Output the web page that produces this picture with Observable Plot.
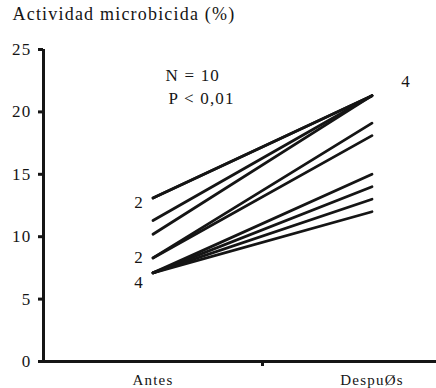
<!DOCTYPE html>
<html>
<head>
<meta charset="utf-8">
<script src="https://cdn.jsdelivr.net/npm/d3@7"></script>
<script src="https://cdn.jsdelivr.net/npm/@observablehq/plot@0.6"></script>
<style>
  html, body { margin: 0; padding: 0; background: #fff; }
  #chart svg text { letter-spacing: 1.2px; }
</style>
</head>
<body>
<div id="chart"></div>
<script>
// Categories and their positions on the (two-band) x axis
const categories = ["Antes", "DespuØs"];
const categoryPos = [0.5, 1.5];
const bandTicks = [1];

// Microbicidal activity (%) per subject, before and after
const antes   = [13.1, 13.1, 11.3, 10.2, 8.3, 8.3, 7.1, 7.1, 7.1, 7.1];
const despues = [21.3, 21.3, 21.3, 21.3, 19.1, 18.1, 15.0, 14.0, 13.0, 12.0];

// Overlap counts shown beside the lines
const countText = ["2", "2", "4"];
const countY    = [12.7, 8.3, 6.3];
const endCountText = ["4"];
const endCountY    = [22.4];

const yTicks = [0, 5, 10, 15, 20, 25];
const title = "Actividad microbicida (%)";
const stats = ["N = 10", "P < 0,01"];

const pairs = antes.map((a, i) => ({a, d: despues[i]}));
const cats = categories.map((c, i) => ({c, x: categoryPos[i]}));

const ink = "#151515";
const font = "Liberation Serif";

const chart = Plot.plot({
  width: 436,
  height: 388,
  marginLeft: 43,
  marginRight: 0,
  marginTop: 49,
  marginBottom: 27,
  x: {type: "linear", domain: [0, 1.7945], axis: null},
  y: {type: "linear", domain: [0, 25], axis: null},
  marks: [
    // axes
    Plot.axisY({ticks: yTicks, tickSize: 5, tickPadding: 7, strokeWidth: 3, stroke: ink, fill: ink, fontSize: 17, fontFamily: font, label: null}),
    Plot.axisX({ticks: bandTicks, tickSize: 5, tickFormat: () => "", strokeWidth: 3, stroke: ink, label: null}),
    Plot.ruleX([0], {y1: 0, y2: 25, stroke: ink, strokeWidth: 3}),
    Plot.ruleY([0], {stroke: ink, strokeWidth: 3}),
    Plot.text(cats, {x: "x", text: "c", frameAnchor: "bottom", dy: 23, fontSize: 15, fontFamily: font, fill: ink, lineAnchor: "bottom"}),
    // lines
    Plot.link(pairs, {x1: () => categoryPos[0], x2: () => categoryPos[1], y1: "a", y2: "d", stroke: ink, strokeWidth: 2.8, strokeLinecap: "round"}),
    // counts
    Plot.text(countText, {x: () => categoryPos[0], y: (d, i) => countY[i], text: d => d, dx: -14, fontSize: 17, fontFamily: font, fill: ink}),
    Plot.text(endCountText, {x: () => categoryPos[1], y: (d, i) => endCountY[i], text: d => d, dx: 34, fontSize: 17, fontFamily: font, fill: ink}),
    // title and stats
    Plot.text([title], {frameAnchor: "top-left", dx: -31, dy: -42, fontSize: 18, fontFamily: font, fill: ink, textAnchor: "start", lineAnchor: "top"}),
    Plot.text([stats[0]], {frameAnchor: "top-left", dx: 122, dy: 19, fontSize: 17, fontFamily: font, fill: ink, textAnchor: "start", lineAnchor: "top"}),
    Plot.text([stats[1]], {frameAnchor: "top-left", dx: 125, dy: 42, fontSize: 17, fontFamily: font, fill: ink, textAnchor: "start", lineAnchor: "top"})
  ]
});
document.getElementById("chart").appendChild(chart);
</script>
</body>
</html>
